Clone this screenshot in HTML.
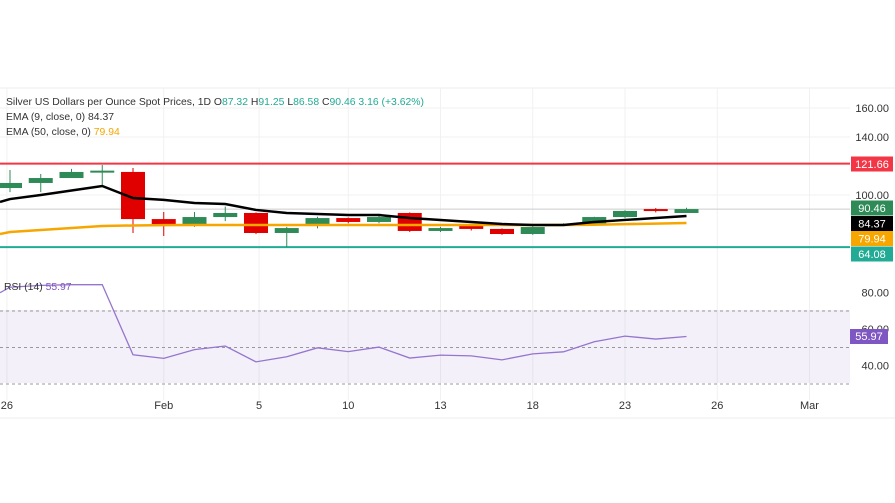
<!DOCTYPE html>
<html><head><meta charset="utf-8"><style>
body{margin:0;background:#fff;width:895px;height:503px;overflow:hidden;font-family:"Liberation Sans",sans-serif}
svg{display:block}
</style></head><body>
<svg id="chart" width="895" height="503" viewBox="0 0 895 503" xmlns="http://www.w3.org/2000/svg">
<rect width="895" height="503" fill="#fff"/>
<line x1="0" y1="88" x2="895" y2="88" stroke="#eee"/>
<line x1="0" y1="418" x2="895" y2="418" stroke="#eee"/>
<g id="grid"></g>
<rect x="0" y="310" width="850" height="73" fill="#7e57c2" fill-opacity="0.09"/>
<g id="rsiLines"></g>
<g id="main"></g>
<text x="6" y="105" font-size="10.4" fill="#333">Silver US Dollars per Ounce Spot Prices, 1D <tspan fill="#333">O</tspan><tspan fill="#22ab94">87.32</tspan> <tspan fill="#333">H</tspan><tspan fill="#22ab94">91.25</tspan> <tspan fill="#333">L</tspan><tspan fill="#22ab94">86.58</tspan> <tspan fill="#333">C</tspan><tspan fill="#22ab94">90.46</tspan> <tspan fill="#22ab94">3.16 (+3.62%)</tspan></text>
<text x="6" y="120" font-size="10.4" fill="#333">EMA (9, close, 0)  84.37</text>
<text x="6" y="135" font-size="10.4" fill="#333">EMA (50, close, 0)  <tspan fill="#f7a600">79.94</tspan></text>
<text x="4" y="290" font-size="10.4" fill="#333">RSI (14) <tspan fill="#7e57c2">55.97</tspan></text>
</svg>
<script>
const NS="http://www.w3.org/2000/svg";
const opens=[104.8,108.3,111.7,116.6,115.9,83.4,80,84.8,87.6,73.8,78.6,84.1,81.4,87.6,75.2,78.6,76.6,73.1,79.3,79.3,84.8,90.3,87.6];
const closes=[108.3,111.7,115.9,116.8,83.4,80,84.8,87.6,73.8,77.2,84.1,81.4,84.8,75.2,77.2,76.6,73.1,77.9,80,84.8,89,89,90.3];
const highs=[117.2,114.5,118,120.7,118.6,88.3,88.3,92,88,78,85,84.5,85.5,88,78,79,77,78.5,80.5,85,89.5,91,91.2];
const lows=[102,102,114,107,73.8,71.7,78,82,73,64.1,77,80.5,80.5,74.5,74.5,75.5,72.5,72.5,78.8,78.8,84,88,88.5];
const ema9=[97.2,100,103.1,106.2,97.9,96.6,94.5,93.8,89.7,87.6,86.9,86.2,86.2,84.1,82.8,81.4,80,79.3,79.3,81.4,82.8,84.1,85.5];
const ema50=[74.5,75.9,77.2,78.6,79,79.2,79.3,79.3,79.3,79.3,79.3,79.3,79.3,79.3,79.3,79.3,79.3,79.3,79.3,79.5,79.9,80.3,80.7];
const rsi=[83,84,84.4,84.4,46,44,48.8,50.8,42.1,44.9,49.8,47.7,50.2,44.2,45.8,45.4,43.2,46.5,47.6,53.1,56.2,54.6,56];
const dateLabels=["26","Feb","5","10","13","18","23","26","Mar"];
const dateIdx=[-0.1,5,8.1,11,14,17,20,23,26];
const priceTicks=[160,140,100];
const rsiTicks=[80,60,40];
const xs=i=>10+i*30.75;
const yp=v=>195-(v-100)*1.45;
const yr=v=>292.7-(v-80)*1.825;
function el(t,a,p){const e=document.createElementNS(NS,t);for(const k in a)e.setAttribute(k,a[k]);(p||document.getElementById('main')).appendChild(e);return e;}
const grid=document.getElementById('grid');
dateIdx.forEach((d,i)=>{const l=el('line',{x1:xs(d),x2:xs(d),y1:88,y2:400,stroke:'#f1f1f1'},grid);

const t=el('text',{x:xs(d),y:409,'font-size':11,fill:'#333','text-anchor':'middle'},grid);t.textContent=dateLabels[i];
});
priceTicks.forEach(v=>{const l=el('line',{x1:0,x2:850,y1:yp(v),y2:yp(v),stroke:'#f1f1f1'},grid);
const t=el('text',{x:889,y:yp(v)+4,'font-size':11,fill:'#333','text-anchor':'end'},grid);t.textContent=v.toFixed(2);});
rsiTicks.forEach(v=>{const t=el('text',{x:889,y:yr(v)+4,'font-size':11,fill:'#333','text-anchor':'end'},grid);t.textContent=v.toFixed(2);});
const rl=document.getElementById('rsiLines');
[70,50,30].forEach(v=>{const l=el('line',{x1:0,x2:850,y1:yr(v),y2:yr(v),stroke:'#999','stroke-dasharray':'3,3'},rl);});
const lvl=[[121.66,'#f23645','resistance-line'],[64.08,'#22ab94','support-line']];
lvl.forEach(a=>{const l=el('line',{x1:0,x2:850,y1:yp(a[0]),y2:yp(a[0]),stroke:a[1],'stroke-width':2});});
const cl=el('line',{x1:0,x2:850,y1:yp(closes[closes.length-1]),y2:yp(closes[closes.length-1]),stroke:'#ccc'});
opens.forEach((o,i)=>{const c=closes[i],up=c>=o,col=up?'#2e8b57':'#e00000';const g=el('g',{});

el('line',{x1:xs(i),x2:xs(i),y1:yp(highs[i]),y2:yp(lows[i]),stroke:col,'stroke-width':1},g);
const t=Math.min(yp(o),yp(c)),h=Math.max(2,Math.abs(yp(o)-yp(c)));
el('rect',{x:xs(i)-12,y:t,width:24,height:h,fill:col},g);});
function path(arr,f,x0v){let d='M0,'+f(x0v);arr.forEach((v,i)=>d+=' L'+xs(i)+','+f(v));return d;}
const e50=el('path',{d:path(ema50,yp,73.1),fill:'none',stroke:'#f7a600','stroke-width':2.5});
const e9=el('path',{d:path(ema9,yp,95.2),fill:'none',stroke:'#000','stroke-width':2.5});
const rp=el('path',{d:path(rsi,yr,80),fill:'none',stroke:'#9575cd','stroke-width':1.3});
const boxes=[[121.66,'#f23645','121.66',164],[90.46,'#2e8b57','90.46',208],[84.37,'#000','84.37',223.5],[79.94,'#f7a600','79.94',238.5],[64.08,'#22ab94','64.08',254]];
boxes.forEach(b=>{const g=el('g',{});
el('rect',{x:851,y:b[3]-7.5,width:42,height:15,fill:b[1]},g);
const t=el('text',{x:872,y:b[3]+4,'font-size':11,fill:'#fff','text-anchor':'middle'},g);t.textContent=b[2];});
const rg=el('g',{});
el('rect',{x:850,y:329,width:38,height:15,fill:'#7e57c2'},rg);
const rt=el('text',{x:869,y:340,'font-size':11,fill:'#fff','text-anchor':'middle'},rg);rt.textContent='55.97';
</script>
</body></html>
